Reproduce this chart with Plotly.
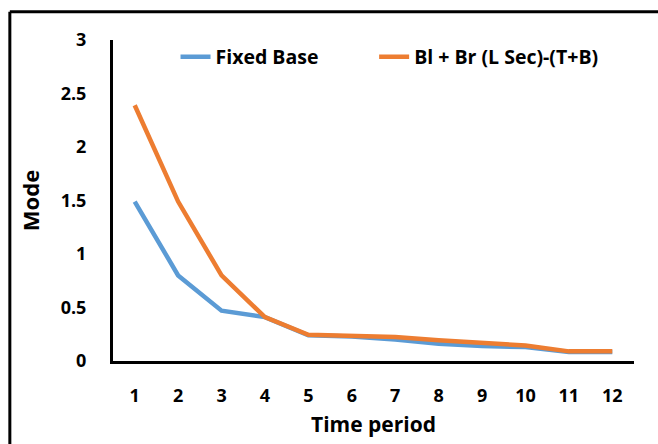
import plotly.graph_objects as go

periods = [str(i) for i in range(1, 13)]
fixed_base = [1.49, 0.80, 0.47, 0.41, 0.24, 0.23, 0.20, 0.16, 0.14, 0.13, 0.085, 0.085]
bl_br = [2.39, 1.49, 0.80, 0.41, 0.245, 0.24, 0.225, 0.195, 0.165, 0.145, 0.09, 0.09]
y_ticks = [0, 0.5, 1, 1.5, 2, 2.5, 3]
y_tick_text = ["0", "0.5", "1", "1.5", "2", "2.5", "3"]
series_names = ["Fixed Base", "Bl + Br (L Sec)-(T+B)"]

font_family = "Open Sans"
pad = "\u00a0" * 10  # spacing between legend entries

fig = go.Figure()
fig.add_trace(go.Scatter(x=periods, y=fixed_base, mode="lines", name=series_names[0] + pad,
                         line=dict(color="#5B9BD5", width=4.5)))
fig.add_trace(go.Scatter(x=periods, y=bl_br, mode="lines", name=series_names[1],
                         line=dict(color="#ED7D31", width=4.5)))

fig.update_layout(
    width=658, height=444,
    margin=dict(l=113, r=24, t=40, b=83),
    paper_bgcolor="white", plot_bgcolor="white",
    font=dict(family=font_family, size=18, color="black"),
    legend=dict(orientation="h", x=0.12, y=0.947, xanchor="left", yanchor="middle",
                font=dict(family=font_family, size=19.5, color="black", weight="bold"),
                bgcolor="rgba(0,0,0,0)"),
    showlegend=True,
)
fig.update_xaxes(
    type="category", range=[-0.5, 11.5], showline=True, linecolor="black", linewidth=3,
    showgrid=False, zeroline=False,
    ticks="outside", ticklen=16, tickcolor="rgba(0,0,0,0)",
    tickfont=dict(family=font_family, size=18, weight="bold"),
    title=dict(text="<b>Time period</b>", font=dict(family=font_family, size=21), standoff=12),
)
fig.update_yaxes(
    range=[0, 3], tickvals=y_ticks, ticktext=y_tick_text,
    showline=True, linecolor="black", linewidth=3,
    showgrid=False, zeroline=False,
    ticks="outside", ticklen=20, tickcolor="rgba(0,0,0,0)",
    tickfont=dict(family=font_family, size=18, weight="bold"),
    title=dict(text="<b>Mode</b>", font=dict(family=font_family, size=22), standoff=15),
)

# outer frame (left and top edges visible in the reference)
fig.add_shape(type="line", xref="paper", yref="paper", x0=-0.198, x1=-0.198, y0=-0.3, y1=1.088,
              line=dict(color="black", width=3))
fig.add_shape(type="line", xref="paper", yref="paper", x0=-0.198, x1=1.1, y0=1.088, y1=1.088,
              line=dict(color="black", width=3))

fig.write_html("out.html")
